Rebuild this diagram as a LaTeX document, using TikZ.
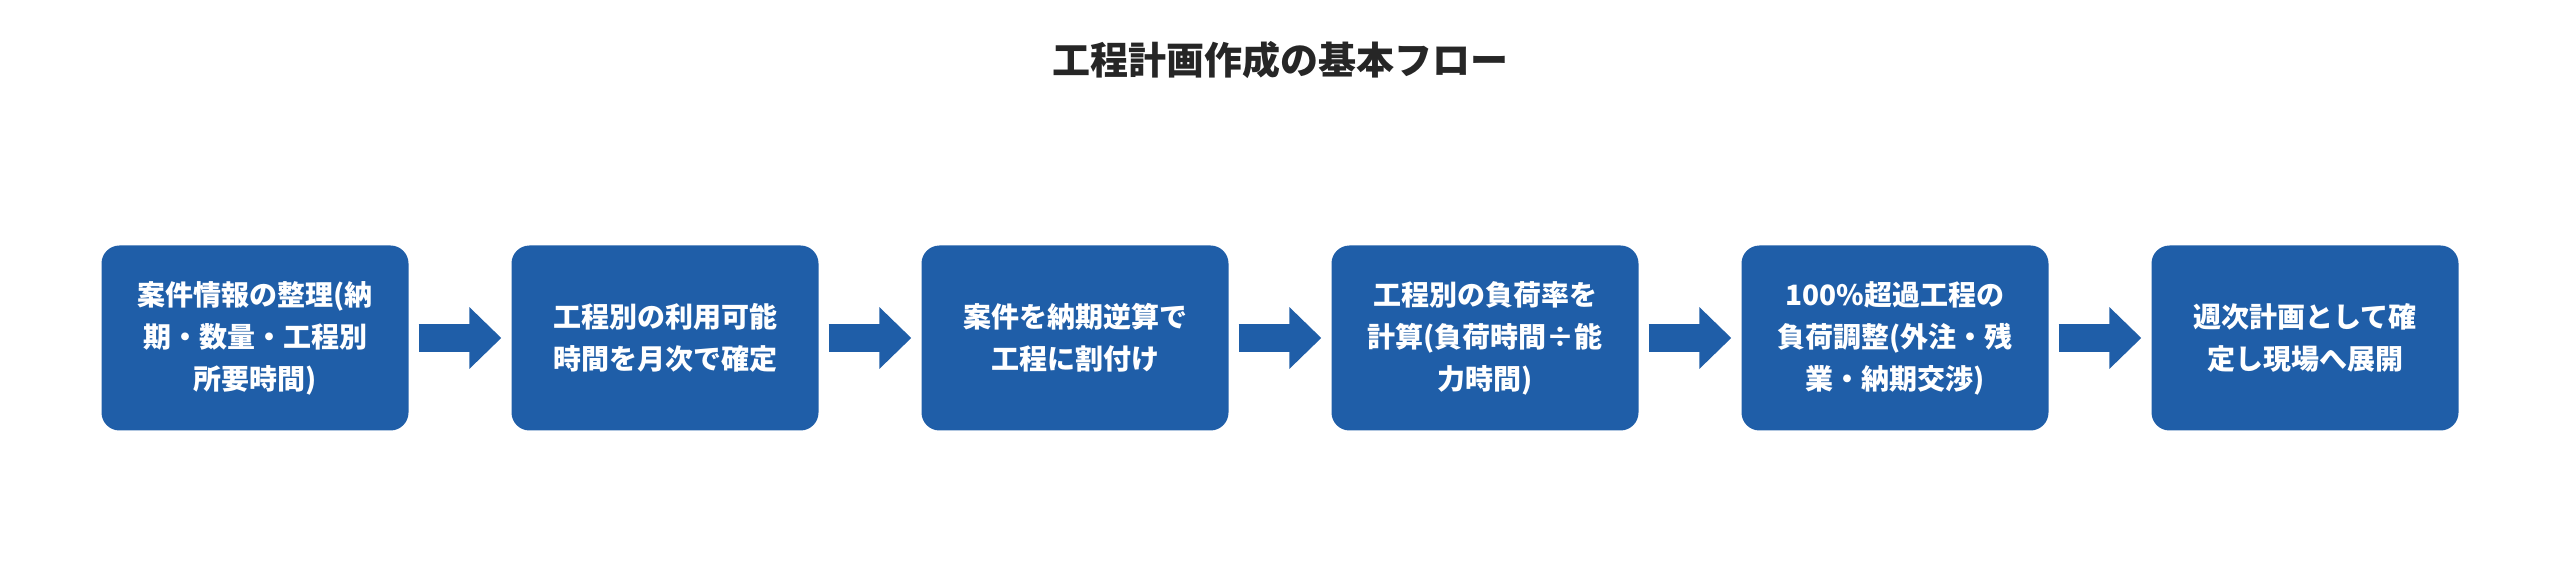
\documentclass[tikz,border=0pt]{standalone}
\usepackage{fontspec}
\setmainfont{Noto Sans CJK JP}
\usepackage{xcolor}
\definecolor{step-blue}{HTML}{1F5EA8}
\usetikzlibrary{arrows.meta,positioning,calc}

\begin{document}
\begin{tikzpicture}[
	x=1pt,y=1pt,
	stepbox/.style={fill=step-blue,rounded corners=18pt,minimum width=307pt,minimum height=185pt,
		text=white,font=\bfseries\fontsize{28}{42}\selectfont,align=center,text width=290pt},
	flow/.style={step-blue,line width=28pt,-{Triangle[length=32pt,width=60pt]}}
	]
	\useasboundingbox (0,0) rectangle (2560,560);
	
	\node[font=\bfseries\fontsize{38}{46}\selectfont,text=black!85] (title) at (1280,500) {工程計画作成の基本フロー};
	
	\node[stepbox] (s1) at (255,222) {案件情報の整理(納\\期・数量・工程別\\所要時間)};
	\node[stepbox] (s2) at (665,222) {工程別の利用可能\\時間を月次で確定};
	\node[stepbox] (s3) at (1075,222) {案件を納期逆算で\\工程に割付け};
	\node[stepbox] (s4) at (1485,222) {工程別の負荷率を\\計算(負荷時間÷能\\力時間)};
	\node[stepbox] (s5) at (1895,222) {100\%超過工程の\\負荷調整(外注・残\\業・納期交渉)};
	\node[stepbox] (s6) at (2305,222) {週次計画として確\\定し現場へ展開};
	
	% arrows between steps
	\foreach \a/\b in {s1/s2,s2/s3,s3/s4,s4/s5,s5/s6}
		\draw[flow] ([xshift=10pt]\a.east) -- ([xshift=-10pt]\b.west);
\end{tikzpicture}
\end{document}
